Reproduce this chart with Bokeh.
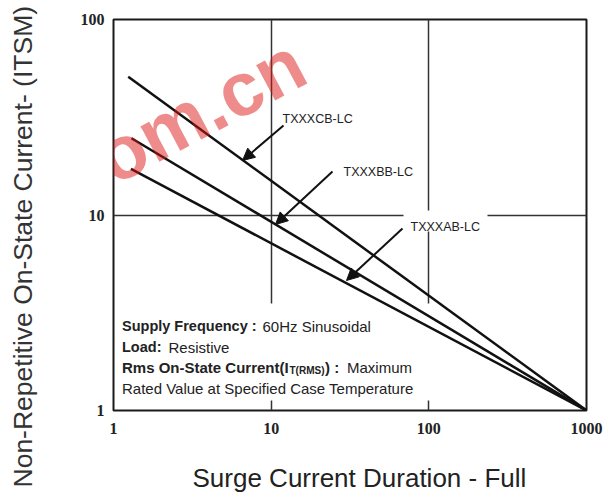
import math
from bokeh.plotting import figure
from bokeh.models import (Label, Arrow, NormalHead, FixedTicker, BasicTickFormatter,
                          ColumnDataSource, Title)
from bokeh.embed import file_html
from bokeh.resources import INLINE

# ---------------- data ----------------
series_names = ["TXXXCB-LC", "TXXXBB-LC", "TXXXAB-LC"]
cb_duration = [1.24, 1000]
cb_current = [51.0, 1.0]
bb_duration = [1.30, 1000]
bb_current = [24.7, 1.0]
ab_duration = [1.29, 1000]
ab_current = [17.2, 1.0]

x_ticks = [1, 10, 100, 1000]
x_tick_labels = ["1", "10", "100", "1000"]
y_ticks = [1, 10, 100]
y_tick_labels = ["1", "10", "100"]

x_title = "Surge Current Duration - Full"
y_title = "Non-Repetitive On-State Current- (ITSM)"

# ---------------- geometry helpers (reference px -> data) ----------------
FL, FR, FT, FB = 113.0, 586.0, 19.0, 410.0
def X(sx):
    return 10 ** ((sx - FL) / ((FR - FL) / 3.0))
def Y(sy):
    return 10 ** ((FB - sy) / ((FB - FT) / 2.0))

p = figure(width=616, height=502, x_axis_type="log", y_axis_type="log",
           x_range=(1, 1000), y_range=(1, 100),
           output_backend="svg", toolbar_location=None,
           min_border_left=113, min_border_right=30, min_border_top=19, min_border_bottom=92)
p.title.visible = False
p.background_fill_color = "white"
p.border_fill_color = "white"
p.outline_line_color = "#1a1a1a"
p.outline_line_width = 2

for ax, ticks, labels, standoff, spacer in ((p.xaxis[0], x_ticks, x_tick_labels, 12, 21),
                                            (p.yaxis[0], y_ticks, y_tick_labels, 9, 35)):
    ax.ticker = FixedTicker(ticks=ticks)
    ax.formatter = BasicTickFormatter()
    ax.major_label_overrides = {t: l for t, l in zip(ticks, labels)}
    ax.axis_line_color = None
    ax.major_tick_line_color = None
    ax.minor_tick_line_color = None
    ax.major_tick_out = 0
    ax.major_tick_in = 0
    ax.major_label_standoff = standoff
    ax.major_label_text_font = "Liberation Serif"
    ax.major_label_text_font_style = "bold"
    ax.major_label_text_font_size = "16px"
    ax.major_label_text_color = "#222222"
    # blank axis label used only as spacing before the title panel
    ax.axis_label = " "
    ax.axis_label_text_font_size = "2px"
    ax.axis_label_standoff = spacer

p.xgrid.ticker = FixedTicker(ticks=[10, 100])
p.ygrid.ticker = FixedTicker(ticks=[10])
for g in (p.xgrid[0], p.ygrid[0]):
    g.grid_line_color = "#333333"
    g.grid_line_width = 1.5

# axis titles as side-panel titles (not clipped by the frame)
p.add_layout(Title(text=x_title, align="left", offset=79, standoff=0, vertical_align="top",
                   text_font="Liberation Sans", text_font_size="26px",
                   text_font_style="normal", text_color="#222222"), "below")
p.add_layout(Title(text=y_title, align="left", offset=-77, standoff=0, vertical_align="bottom",
                   text_font="Liberation Sans", text_font_size="26.5px",
                   text_font_style="normal", text_color="#333333"), "left")

# white boxes behind text (hide grid, under the curves)
p.quad(left=[X(116), X(403)], right=[X(440), X(487)],
       bottom=[Y(400), Y(231)], top=[Y(303), Y(210)],
       fill_color="white", line_color=None)

for xs, ys in ((cb_duration, cb_current), (bb_duration, bb_current), (ab_duration, ab_current)):
    src = ColumnDataSource(dict(x=xs, y=ys))
    p.line("x", "y", source=src, line_color="#111111", line_width=2.5)

# series labels and arrows
lab_kw = dict(text_font="Liberation Sans", text_font_size="12.5px", text_color="#222222",
              text_baseline="alphabetic", text_align="left")
label_pos = [(282, 118), (343, 171.5), (410, 226)]
arrow_pos = [((283, 125), (242, 160)), ((332, 171), (275, 224)), ((402, 228), (346, 280))]
for name, (lx, ly), ((x0, y0), (x1, y1)) in zip(series_names, label_pos, arrow_pos):
    p.add_layout(Label(x=X(lx), y=Y(ly), text=name, **lab_kw))
    p.add_layout(Arrow(x_start=X(x0), y_start=Y(y0), x_end=X(x1), y_end=Y(y1),
                       line_color="#111111", line_width=2,
                       end=NormalHead(size=12, fill_color="#111111", line_color="#111111")))

# condition text block
tb = dict(text_font="Liberation Sans", text_color="#222222", text_baseline="alphabetic",
          text_align="left")
block = [
    ("Supply Frequency :", "bold", "14.5px", 121.5, 325.5),
    ("60Hz Sinusoidal", "normal", "15px", 262, 325.5),
    ("Load:", "bold", "14.5px", 121.5, 346.5),
    ("Resistive", "normal", "15px", 168, 346.5),
    ("Rms On-State Current(I", "bold", "15px", 121.5, 366.5),
    ("T(RMS)", "bold", "10px", 289, 369.5),
    (") :", "bold", "15px", 324.5, 366.5),
    ("Maximum", "normal", "15px", 346.5, 366.5),
    ("Rated Value at Specified Case Temperature", "normal", "15px", 121.5, 387.5),
]
for txt, style, size, sx, sy in block:
    p.add_layout(Label(x=X(sx), y=Y(sy), text=txt, text_font_style=style,
                       text_font_size=size, **tb))

# red watermark (as in the reference image)
p.add_layout(Label(x=X(45), y=Y(192), text=".com.cn", text_font="Liberation Sans",
                   text_font_size="76px", text_font_style="bold", text_color="#dc1414",
                   text_alpha=0.49, text_baseline="alphabetic", text_align="left",
                   angle=math.radians(28)))

open("out.html", "w").write(file_html(p, INLINE))
